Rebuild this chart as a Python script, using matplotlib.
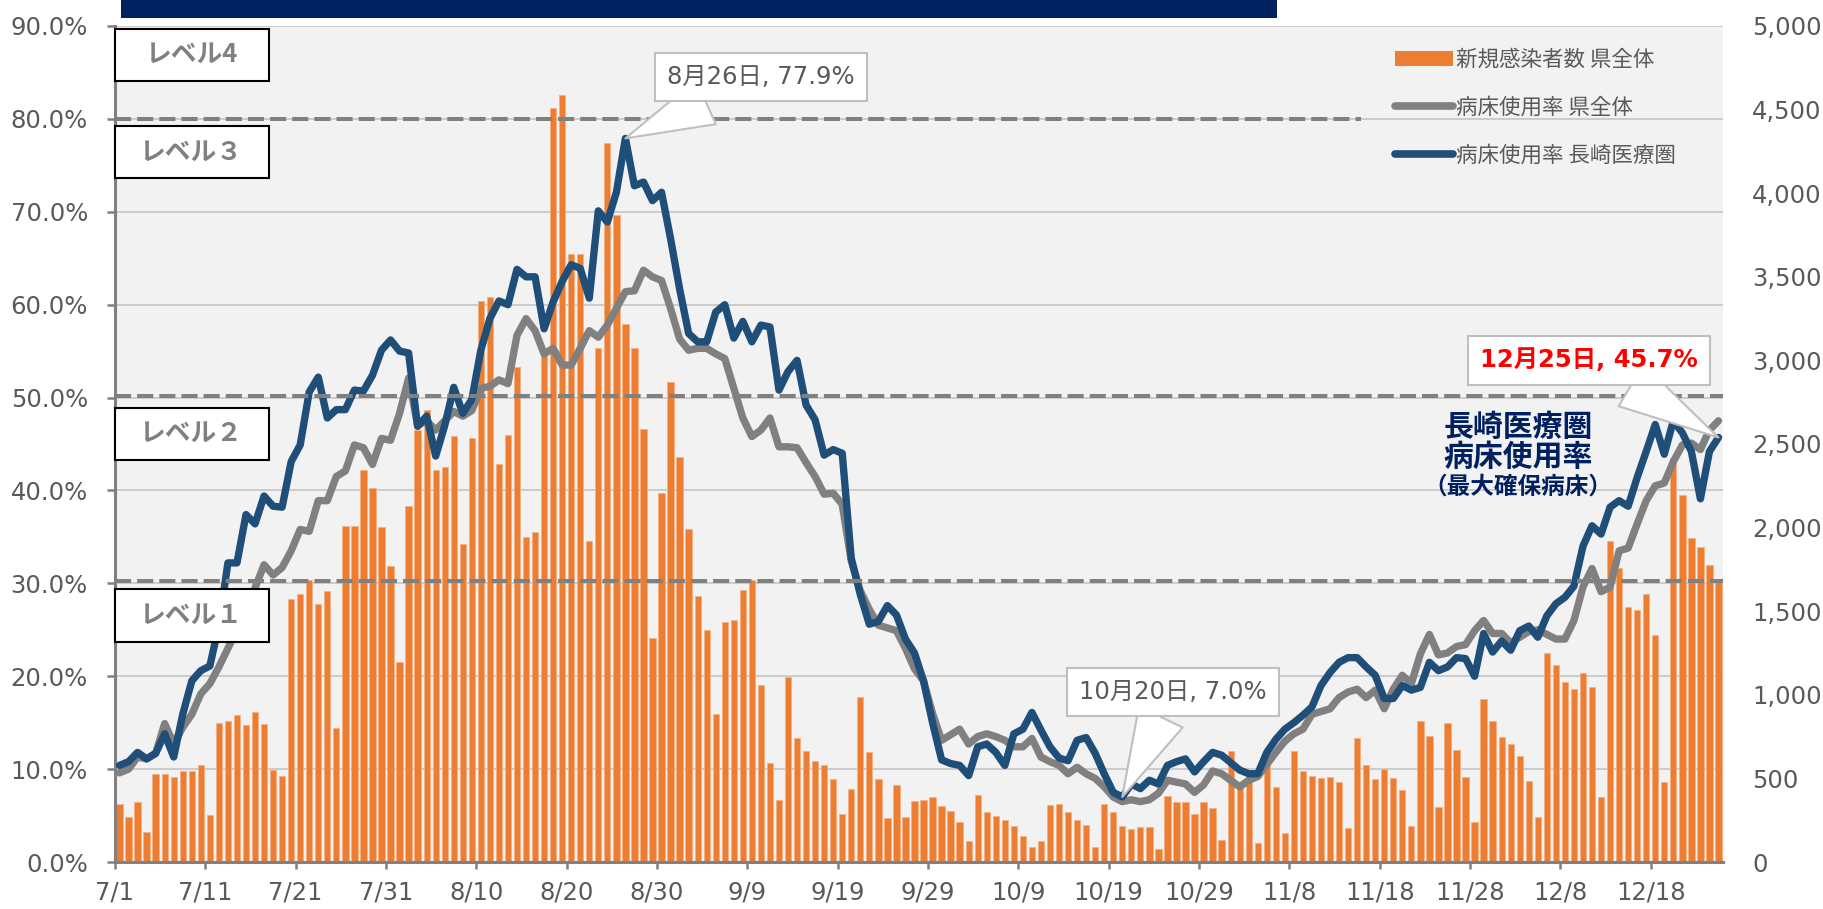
import numpy as np
import pandas as pd
import matplotlib
matplotlib.use("Agg")
import matplotlib.pyplot as plt
from matplotlib.patches import Rectangle, Patch
from matplotlib.lines import Line2D

plt.rcParams['font.family'] = ['Noto Sans CJK JP', 'DejaVu Sans']
NUMFONT = ['DejaVu Sans', 'Noto Sans CJK JP']

# ---------------- data ----------------
start_date = "2022-07-01"
n_days = 178

new_cases = [
    346, 270, 360, 181, 528, 524, 509, 542, 542, 578,
    280, 834, 846, 882, 817, 900, 827, 552, 513, 1572,
    1600, 1689, 1545, 1622, 803, 2011, 2011, 2345, 2239, 2006,
    1772, 1195, 2128, 2583, 2706, 2345, 2361, 2545, 1900, 2533,
    3356, 3378, 2378, 2556, 2961, 1945, 1972, 3056, 4511, 4589,
    3639, 3639, 1917, 3072, 4300, 3872, 3217, 3072, 2589, 1339,
    2206, 2872, 2422, 1989, 1589, 1389, 883, 1433, 1450, 1628,
    1689, 1056, 594, 372, 1106, 744, 661, 606, 578, 494,
    289, 439, 989, 656, 494, 261, 461, 267, 367, 369,
    389, 333, 306, 239, 128, 400, 300, 278, 250, 217,
    156, 89, 128, 339, 344, 300, 250, 222, 89, 344,
    300, 217, 200, 211, 211, 78, 394, 361, 361, 289,
    356, 322, 133, 661, 461, 511, 111, 589, 450, 172,
    661, 544, 517, 503, 506, 478, 206, 744, 583, 494,
    556, 500, 428, 217, 844, 756, 328, 833, 667, 511,
    239, 972, 844, 750, 706, 633, 483, 272, 1250, 1178,
    1078, 1033, 1133, 1044, 389, 1917, 1756, 1528, 1506, 1600,
    1356, 478, 2417, 2194, 1939, 1883, 1778, 1689,
]

bed_rate_pref = [
    9.6, 10.0, 11.3, 11.1, 11.7, 14.9, 12.7, 14.5, 15.9, 18.1,
    19.2, 21.0, 23.0, 25.0, 27.5, 29.5, 32.0, 30.9, 31.7, 33.5,
    35.8, 35.6, 38.9, 38.9, 41.5, 42.1, 44.9, 44.6, 42.8, 45.6,
    45.4, 48.3, 52.1, 47.0, 47.5, 46.5, 47.5, 48.5, 48.0, 48.6,
    51.0, 51.2, 51.9, 51.5, 56.7, 58.5, 57.2, 54.7, 55.3, 53.5,
    53.5, 55.3, 57.2, 56.5, 57.8, 59.6, 61.4, 61.5, 63.7, 63.0,
    62.6, 59.6, 56.3, 55.1, 55.3, 55.3, 54.7, 54.2, 51.0, 47.8,
    45.8, 46.5, 47.8, 44.7, 44.7, 44.6, 43.0, 41.5, 39.6, 39.7,
    38.5, 32.4, 29.2, 27.2, 25.5, 25.2, 24.9, 23.0, 20.8, 19.5,
    16.0, 13.1, 13.7, 14.3, 12.7, 13.5, 13.8, 13.5, 13.1, 12.4,
    12.4, 13.3, 11.3, 10.8, 10.4, 9.5, 10.2, 9.5, 9.0, 8.1,
    7.0, 6.5, 6.7, 6.5, 6.7, 7.4, 8.8, 8.6, 8.4, 7.5,
    8.3, 9.8, 9.5, 8.8, 8.1, 8.8, 9.2, 10.5, 11.8, 13.0,
    13.8, 14.3, 15.9, 16.2, 16.5, 17.7, 18.3, 18.6, 17.7, 18.5,
    16.5, 18.6, 20.1, 19.2, 22.4, 24.5, 22.3, 22.5, 23.2, 23.4,
    24.9, 26.0, 24.6, 24.6, 23.6, 24.2, 24.8, 25.0, 24.5, 24.0,
    24.0, 26.0, 29.6, 31.6, 29.1, 29.6, 33.5, 33.8, 36.4, 38.9,
    40.5, 40.8, 43.1, 44.9, 45.1, 44.4, 46.5, 47.5,
]

bed_rate_nagasaki = [
    10.4, 10.8, 11.8, 11.1, 11.7, 13.8, 11.3, 15.9, 19.5, 20.6,
    21.1, 25.5, 32.2, 32.2, 37.4, 36.4, 39.4, 38.3, 38.2, 43.1,
    44.9, 50.6, 52.2, 47.8, 48.7, 48.7, 50.8, 50.7, 52.4, 55.1,
    56.2, 55.0, 54.8, 46.9, 48.0, 43.7, 47.0, 51.1, 48.3, 49.8,
    55.1, 58.5, 60.4, 60.0, 63.8, 63.0, 63.0, 57.4, 60.3, 62.5,
    64.3, 63.9, 60.7, 70.1, 68.9, 72.1, 77.9, 72.8, 73.2, 71.2,
    72.1, 67.1, 61.7, 56.9, 56.0, 56.0, 59.2, 60.0, 56.4, 58.2,
    56.0, 57.8, 57.6, 50.8, 52.8, 54.0, 49.2, 47.6, 43.8, 44.4,
    44.0, 32.7, 28.8, 25.6, 25.9, 27.6, 26.6, 24.0, 22.5, 19.5,
    15.0, 11.0, 10.6, 10.4, 9.3, 12.4, 12.7, 11.8, 10.4, 13.8,
    14.3, 16.1, 14.2, 12.4, 11.2, 10.9, 13.1, 13.4, 11.7, 9.5,
    7.5, 7.0, 8.4, 7.9, 8.8, 8.4, 10.4, 10.8, 11.1, 9.7,
    10.8, 11.8, 11.5, 10.7, 9.9, 9.5, 9.5, 11.8, 13.2, 14.3,
    15.0, 15.8, 16.7, 19.0, 20.4, 21.5, 22.0, 22.0, 21.0, 20.1,
    17.6, 17.6, 19.0, 18.5, 18.8, 21.5, 20.6, 21.0, 22.0, 21.9,
    20.0, 24.6, 22.6, 23.8, 22.8, 24.9, 25.4, 24.2, 26.5, 27.8,
    28.5, 29.7, 34.0, 36.2, 35.3, 38.2, 38.9, 38.3, 41.4, 44.2,
    47.1, 43.9, 47.5, 46.2, 44.2, 39.1, 44.2, 45.7,
]

pct_ticks = list(range(0, 91, 10))
case_ticks = list(range(0, 5001, 500))
level_lines = [80.0, 50.2, 30.2]
level_labels = ["レベル4", "レベル３", "レベル２", "レベル１"]
level_box_ranges = [(84.1, 89.7), (73.6, 79.2), (43.3, 48.9), (23.7, 29.4)]

legend_labels = ["新規感染者数 県全体", "病床使用率 県全体", "病床使用率 長崎医療圏"]

# ---------------- styling ----------------
ORANGE = "#ED7D31"
GRAY = "#808080"
BLUE = "#1F4E79"
NAVY = "#002060"
TXT = "#595959"
PCT_MAX = 90
CASE_MAX = 5000
TICK_FS = 17.5

dates = pd.date_range(start_date, periods=n_days, freq="D")
x = np.arange(n_days) + 0.5

fig = plt.figure(figsize=(18.24, 9.09), dpi=100)
ax = fig.add_axes([115 / 1824, 1 - 862 / 909, (1723 - 115) / 1824, (862 - 26) / 909])
ax.set_facecolor("#F2F2F2")
ax.set_xlim(0, n_days)
ax.set_ylim(0, CASE_MAX)

# gridlines (behind bars), aligned to the percent axis
grid_y = [p * CASE_MAX / PCT_MAX for p in pct_ticks[1:]]
ax.hlines(grid_y, 0, n_days, colors="#C9C9C9", linewidth=1.3, zorder=0.5)

ax.bar(x, new_cases, width=0.7, color=ORANGE, edgecolor="#F4B183",
       linewidth=0.6, zorder=2)

# percent axis (twin)
ax2 = ax.twinx()
ax2.set_ylim(0, PCT_MAX)
ax2.set_xlim(0, n_days)

# right axis ticks (cases) - set after twinx
ax.yaxis.tick_right()
ax.set_yticks(case_ticks)
ax.set_yticklabels([f"{v:,}" for v in case_ticks], fontfamily=NUMFONT)
ax.tick_params(axis="y", which="both", left=False, labelleft=False,
               right=True, labelright=True, length=0, pad=21,
               labelsize=TICK_FS, labelcolor=TXT)

# x axis
tick_idx = list(range(0, n_days, 10))
ax.set_xticks(tick_idx)
ax.set_xticklabels([f"{dates[i].month}/{dates[i].day}" for i in tick_idx],
                   fontfamily=NUMFONT)
ax.tick_params(axis="x", length=5, width=1.8, color=GRAY, pad=8,
               labelsize=TICK_FS, labelcolor=TXT)
for s in ["top", "right", "left"]:
    ax.spines[s].set_visible(False)
ax.spines["bottom"].set_color(GRAY)
ax.spines["bottom"].set_linewidth(2.2)

ax2.yaxis.tick_left()
ax2.set_yticks(pct_ticks)
ax2.set_yticklabels([f"{v:.1f}%" for v in pct_ticks], fontfamily=NUMFONT)
ax2.tick_params(axis="y", which="both", left=True, labelleft=True,
                right=False, labelright=False, length=5.5, width=1.8,
                color=GRAY, pad=14, labelsize=TICK_FS, labelcolor=TXT)
for s in ["top", "right", "bottom"]:
    ax2.spines[s].set_visible(False)
ax2.spines["left"].set_color(GRAY)
ax2.spines["left"].set_linewidth(2.2)

ax2.plot(x, bed_rate_pref, color=GRAY, linewidth=5.3, solid_joinstyle="round",
         solid_capstyle="round", zorder=3)
ax2.plot(x, bed_rate_nagasaki, color=BLUE, linewidth=5.3, solid_joinstyle="round",
         solid_capstyle="round", zorder=4)

# level dashed lines
dash = (0, (4, 1.5))
ax2.hlines(level_lines[0], 0, 137.9, colors=GRAY, linewidth=2.9, linestyles=dash, zorder=5)
for lv in level_lines[1:]:
    ax2.hlines(lv, 0, n_days, colors=GRAY, linewidth=2.9, linestyles=dash, zorder=5)

# level boxes
for lab, (y0, y1) in zip(level_labels, level_box_ranges):
    ax2.add_patch(Rectangle((0, y0), 17.0, y1 - y0, facecolor="white",
                            edgecolor="black", linewidth=1.5, zorder=6, clip_on=False))
    ax2.text(8.5, (y0 + y1) / 2, lab, ha="center", va="center", fontsize=18.5,
             fontweight="bold", color=GRAY, zorder=7)

# callouts
def callout(txt, xy, xytext, color=TXT, weight="normal"):
    ax2.annotate(txt, xy=xy, xytext=xytext, ha="center", va="center",
                 fontsize=17.5, color=color, fontweight=weight, zorder=10,
                 fontfamily=NUMFONT,
                 bbox=dict(boxstyle="square,pad=0.5", fc="white", ec="#BFBFBF", lw=1.5),
                 arrowprops=dict(arrowstyle="wedge,tail_width=2.0,shrink_factor=0.5",
                                 fc="white", ec="#BFBFBF", lw=1.5,
                                 shrinkA=0, shrinkB=0))

callout("8月26日, 77.9%", (56.5, bed_rate_nagasaki[56]), (71.5, 84.5))
callout("10月20日, 7.0%", (111.5, bed_rate_nagasaki[111]), (117.1, 18.3))
callout("12月25日, 45.7%", (177.5, bed_rate_nagasaki[177]), (163.2, 54.0),
        color="#FF0000", weight="bold")

# series label
ax2.text(155.3, 46.8, "長崎医療圏", ha="center", va="center", fontsize=21.5,
         fontweight="bold", color=NAVY, zorder=8)
ax2.text(155.3, 43.6, "病床使用率", ha="center", va="center", fontsize=21.5,
         fontweight="bold", color=NAVY, zorder=8)
ax2.text(155.3, 40.4, "（最大確保病床）", ha="center", va="center", fontsize=17,
         fontweight="bold", color=NAVY, zorder=8)

# legend
handles = [Patch(facecolor=ORANGE, edgecolor="none"),
           Line2D([0], [0], color=GRAY, linewidth=5.5, solid_capstyle="round"),
           Line2D([0], [0], color=BLUE, linewidth=5.5, solid_capstyle="round")]
fig.legend(handles, legend_labels, loc="upper left",
           bbox_to_anchor=(1395 / 1824, 1 - 49 / 909), frameon=False,
           borderpad=0, borderaxespad=0, fontsize=15.5, labelcolor=TXT,
           handlelength=2.7, handletextpad=0.15, labelspacing=1.2)

# title bar (cut off at top)
fig.add_artist(Rectangle((121 / 1824, 1 - 18 / 909), (1277 - 121) / 1824, 0.05,
                         transform=fig.transFigure, facecolor=NAVY, edgecolor="none"))

fig.savefig("out.png", dpi=100)
